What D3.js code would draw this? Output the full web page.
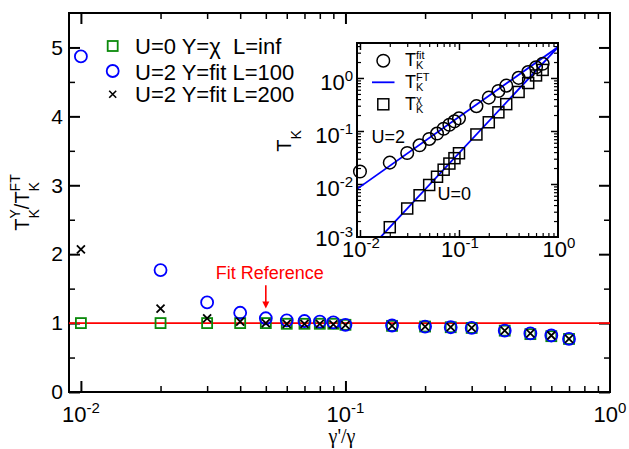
<!DOCTYPE html>
<html><head><meta charset="utf-8">
<script src="https://cdn.jsdelivr.net/npm/d3@7"></script>
<style>
html,body{margin:0;padding:0;background:#fff;}
svg{display:block;font-family:"Liberation Sans",Arial,Helvetica,sans-serif;}
</style></head><body>
<svg id="chart" width="629" height="449"></svg>
<script>
// ---------------- data ----------------
const gammaRatio = [0.01,0.02,0.03,0.04,0.05,0.06,0.07,0.08,0.09,0.1,0.15,0.2,0.25,0.3,0.4,0.5,0.6,0.7];
const ratioU0     = [1.0,1.0,1.0,1.0,1.0,0.99,0.99,0.99,0.99,0.975,0.96,0.95,0.94,0.93,0.89,0.84,0.81,0.77];
const ratioU2L100 = [4.87,1.77,1.30,1.15,1.07,1.04,1.03,1.02,1.01,0.975,0.965,0.95,0.94,0.93,0.89,0.85,0.82,0.77];
const ratioU2L200 = [2.07,1.21,1.07,1.02,1.0,0.99,0.99,0.99,0.98,0.97,0.96,0.95,0.94,0.93,0.89,0.85,0.82,0.77];
const insetFitX = [0.01,0.02,0.03,0.04,0.05,0.06,0.07,0.08,0.09,0.1,0.15,0.2,0.25,0.3,0.4,0.5,0.6,0.7];
const insetFitT = [0.0172,0.0253,0.0384,0.0537,0.0708,0.0894,0.110,0.131,0.152,0.173,0.294,0.426,0.568,0.716,1.006,1.293,1.59,1.85];
const insetChiX = [0.02,0.03,0.04,0.05,0.06,0.07,0.08,0.09,0.1,0.15,0.2,0.25,0.3,0.4,0.5,0.6,0.7];
const insetChiT = [0.00153,0.00345,0.00613,0.00958,0.0137,0.0186,0.0243,0.0307,0.0380,0.086,0.146,0.225,0.321,0.545,0.804,1.117,1.42];
const ftX   = [0.0093, 1];
const ftU2  = [0.008, 3.83];
const ftU0  = [0.00033, 3.83];
const mainYTicks = [0,1,2,3,4,5];
const mainXTickExp = [-2,-1,0];
const insetXTickExp = [-2,-1,0];
const insetYTickExp = [-3,-2,-1,0];
const legendLabels = ["U=0 Y=\u03c7  L=inf", "U=2 Y=fit L=100", "U=2 Y=fit L=200"];
const insetLegend = [
  {sup:"fit", kind:"circle"},
  {sup:"FT", kind:"line"},
  {sup:"\u03c7", kind:"square"}
];
const annotText = "Fit Reference";
const annotX = 0.05, annotFromY = 1.55, annotToY = 1.21;

// ---------------- helpers ----------------
const svg = d3.select("#chart");
const GREEN = "#0b8a0b", BLUE = "#0000ff", RED = "#ff0000";

function richLabel(parent, parts, opt){
  const g = parent.append("g").attr("fill", opt.fill || "#000");
  let cx = 0;
  parts.forEach(p=>{
    if(p.base){
      const t = g.append("text").attr("x",cx).attr("y",0).attr("font-size",opt.size).text(p.base);
      cx += t.node().getComputedTextLength();
    }
    let w = 0;
    if(p.sup){
      const t = g.append("text").attr("x",cx).attr("y",-opt.supShift).attr("font-size",opt.small).text(p.sup);
      w = Math.max(w, t.node().getComputedTextLength());
    }
    if(p.sub){
      const t = g.append("text").attr("x",cx).attr("y",opt.subShift).attr("font-size",opt.small).text(p.sub);
      w = Math.max(w, t.node().getComputedTextLength());
    }
    cx += w;
  });
  const dx = opt.anchor==="middle" ? -cx/2 : (opt.anchor==="end" ? -cx : 0);
  g.attr("transform", `translate(${opt.x},${opt.y})${opt.rotate ? ` rotate(${opt.rotate})` : ""} translate(${dx},0)`);
  return g;
}
function logMinor(domain){
  const out = [];
  for(let e=-4;e<=1;e++) for(let m=2;m<=9;m++){
    const v = m*Math.pow(10,e);
    if(v>domain[0]*1.001 && v<domain[1]*0.999) out.push(v);
  }
  return out;
}
function ticks(parent, axisFn, scale, values, size, transform, sw){
  parent.append("g").attr("transform",transform)
    .call(axisFn(scale).tickValues(values).tickSize(size).tickFormat(""))
    .call(s=>s.select(".domain").remove())
    .call(s=>s.selectAll("line").attr("stroke","#000").attr("stroke-width",sw));
}

// ---------------- main plot ----------------
const M = {l:69, r:610, t:13, b:392};
const x = d3.scaleLog().domain([Math.pow(10,-2.045),1]).range([M.l,M.r]);
const y = d3.scaleLinear().domain([0,5.5]).range([M.b,M.t]);

const main = svg.append("g");
const xMajor = mainXTickExp.map(e=>Math.pow(10,e)).filter(v=>v<1);
const xMinor = logMinor(x.domain());
const yMinor = d3.range(0.5,5.5,1);

ticks(main, d3.axisBottom, x, xMajor, -11, `translate(0,${M.b})`, 2);
ticks(main, d3.axisBottom, x, xMinor, -6, `translate(0,${M.b})`, 1.5);
ticks(main, d3.axisTop, x, xMajor, -11, `translate(0,${M.t})`, 2);
ticks(main, d3.axisTop, x, xMinor, -6, `translate(0,${M.t})`, 1.5);
ticks(main, d3.axisLeft, y, mainYTicks, -11, `translate(${M.l},0)`, 2);
ticks(main, d3.axisLeft, y, yMinor, -6, `translate(${M.l},0)`, 1.5);
ticks(main, d3.axisRight, y, mainYTicks, -11, `translate(${M.r},0)`, 2);
ticks(main, d3.axisRight, y, yMinor, -6, `translate(${M.r},0)`, 1.5);

// y tick labels via d3 axis
main.append("g").attr("transform",`translate(${M.l},0)`)
  .call(d3.axisLeft(y).tickValues(mainYTicks).tickSize(0).tickPadding(6).tickFormat(d3.format("d")))
  .call(s=>s.select(".domain").remove())
  .call(s=>s.selectAll("text").attr("font-size",21).attr("font-family","Liberation Sans, Arial, sans-serif").attr("fill","#000"));

// x tick labels
mainXTickExp.forEach(e=>{
  richLabel(main, [{base:"10", sup:String(e)}], {size:22, small:15, supShift:9, subShift:0, anchor:"middle", x:x(Math.pow(10,e)), y:422});
});

main.append("rect").attr("x",M.l).attr("y",M.t).attr("width",M.r-M.l).attr("height",M.b-M.t)
  .attr("fill","none").attr("stroke","#000").attr("stroke-width",2);

// axis titles
main.append("text").attr("x",342).attr("y",443).attr("text-anchor","middle")
  .attr("font-family","Liberation Serif, Times New Roman, serif").attr("font-size",20).text("\u03b3'/\u03b3");
richLabel(main, [{base:"T",sub:"K",sup:"Y"},{base:"/"},{base:"T",sub:"K",sup:"FT"}],
  {size:20, small:14, supShift:9, subShift:10, anchor:"middle", x:29, y:202.5, rotate:-90});

// reference line
main.append("line").attr("x1",M.l).attr("x2",M.r).attr("y1",y(1)).attr("y2",y(1))
  .attr("stroke",RED).attr("stroke-width",1.6);

// series
const mg = main.append("g");
mg.selectAll(".sq").data(gammaRatio).join("rect")
  .attr("x",(d,i)=>x(d)-5).attr("y",(d,i)=>y(ratioU0[i])-5).attr("width",10).attr("height",10)
  .attr("fill","none").attr("stroke",GREEN).attr("stroke-width",1.8);
mg.selectAll(".ci").data(gammaRatio).join("circle")
  .attr("cx",d=>x(d)).attr("cy",(d,i)=>y(ratioU2L100[i])).attr("r",6)
  .attr("fill","none").attr("stroke",BLUE).attr("stroke-width",1.8);
const xm = (g, cx, cy, s, col, sw)=>{
  g.append("path").attr("d",`M${cx-s},${cy-s}L${cx+s},${cy+s}M${cx-s},${cy+s}L${cx+s},${cy-s}`)
   .attr("stroke",col).attr("stroke-width",sw).attr("fill","none");
};
gammaRatio.forEach((d,i)=>xm(mg, x(d), y(ratioU2L200[i]), 4, "#000", 1.8));

// annotation
main.append("text").attr("x",x(annotX)+4).attr("y",279).attr("text-anchor","middle")
  .attr("font-size",18).attr("fill",RED).text(annotText);
main.append("line").attr("x1",x(annotX)).attr("x2",x(annotX)).attr("y1",y(annotFromY)).attr("y2",y(annotToY)-6)
  .attr("stroke",RED).attr("stroke-width",1.6);
main.append("path").attr("d",`M${x(annotX)-3.5},${y(annotToY)-7}L${x(annotX)+3.5},${y(annotToY)-7}L${x(annotX)},${y(annotToY)}Z`)
  .attr("fill",RED);

// legend
const legY = [46, 71, 94.3];
const legBase = [53.5, 79.5, 102];
const lg = main.append("g");
lg.append("rect").attr("x",112.7-5).attr("y",legY[0]-5).attr("width",10).attr("height",10)
  .attr("fill","none").attr("stroke",GREEN).attr("stroke-width",1.8);
lg.append("circle").attr("cx",112.7).attr("cy",legY[1]).attr("r",6)
  .attr("fill","none").attr("stroke",BLUE).attr("stroke-width",1.8);
xm(lg, 112.7, legY[2], 3.5, "#000", 1.6);
legendLabels.forEach((t,i)=>{
  lg.append("text").attr("x",135).attr("y",legBase[i]).attr("font-size",22)
    .attr("xml:space","preserve").style("white-space","pre").text(t);
});

// ---------------- inset ----------------
const I = {l:357, r:558, t:43, b:237};
const xi = d3.scaleLog().domain([Math.pow(10,-2.03),1]).range([I.l,I.r]);
const yi = d3.scaleLog().domain([1e-3, Math.pow(10,0.66)]).range([I.b,I.t]);
const inset = svg.append("g");
inset.append("rect").attr("x",I.l).attr("y",I.t).attr("width",I.r-I.l).attr("height",I.b-I.t)
  .attr("fill","#fff");
inset.append("clipPath").attr("id","iclip").append("rect")
  .attr("x",I.l).attr("y",I.t).attr("width",I.r-I.l).attr("height",I.b-I.t);

const xiMajor = insetXTickExp.map(e=>Math.pow(10,e)).filter(v=>v>xi.domain()[0] && v<1);
const xiMinor = logMinor(xi.domain());
const yiMajor = insetYTickExp.map(e=>Math.pow(10,e)).filter(v=>v>1e-3);
const yiMinor = logMinor(yi.domain());
ticks(inset, d3.axisBottom, xi, xiMajor, -7, `translate(0,${I.b})`, 1.5);
ticks(inset, d3.axisBottom, xi, xiMinor, -4, `translate(0,${I.b})`, 1.2);
ticks(inset, d3.axisTop, xi, xiMajor, -7, `translate(0,${I.t})`, 1.5);
ticks(inset, d3.axisTop, xi, xiMinor, -4, `translate(0,${I.t})`, 1.2);
ticks(inset, d3.axisLeft, yi, yiMajor, -7, `translate(${I.l},0)`, 1.5);
ticks(inset, d3.axisLeft, yi, yiMinor, -4, `translate(${I.l},0)`, 1.2);
ticks(inset, d3.axisRight, yi, yiMajor, -7, `translate(${I.r},0)`, 1.5);
ticks(inset, d3.axisRight, yi, yiMinor, -4, `translate(${I.r},0)`, 1.2);

insetXTickExp.forEach(e=>{
  richLabel(inset, [{base:"10", sup:String(e)}], {size:22, small:15, supShift:9, subShift:0, anchor:"middle", x:xi(Math.pow(10,e))+1, y:257});
});
insetYTickExp.forEach(e=>{
  richLabel(inset, [{base:"10", sup:String(e)}], {size:22, small:15, supShift:9, subShift:0, anchor:"end", x:353, y:Math.min(yi(Math.pow(10,e)),234)+12});
});
richLabel(inset, [{base:"T", sub:"K"}], {size:20, small:14, supShift:7, subShift:10, anchor:"middle", x:291, y:141, rotate:-90});

// lines
const lineGen = d3.line().x(d=>xi(d[0])).y(d=>yi(d[1]));
const ic = inset.append("g").attr("clip-path","url(#iclip)");
ic.append("path").datum(ftX.map((v,i)=>[v,ftU2[i]])).attr("d",lineGen)
  .attr("stroke",BLUE).attr("stroke-width",1.8).attr("fill","none");
ic.append("path").datum(ftX.map((v,i)=>[v,ftU0[i]])).attr("d",lineGen)
  .attr("stroke",BLUE).attr("stroke-width",1.8).attr("fill","none");
// markers
inset.selectAll(".ic").data(insetFitX).join("circle")
  .attr("cx",d=>xi(d)).attr("cy",(d,i)=>yi(insetFitT[i])).attr("r",6.3)
  .attr("fill","none").attr("stroke","#000").attr("stroke-width",1.5);
inset.selectAll(".is").data(insetChiX).join("rect")
  .attr("x",d=>xi(d)-5.5).attr("y",(d,i)=>yi(insetChiT[i])-5.5).attr("width",11).attr("height",11)
  .attr("fill","none").attr("stroke","#000").attr("stroke-width",1.5);

inset.append("rect").attr("x",I.l).attr("y",I.t).attr("width",I.r-I.l).attr("height",I.b-I.t)
  .attr("fill","none").attr("stroke","#000").attr("stroke-width",2);

// inset legend
const ilY = [60.7, 82.3, 104.3];
const ilBase = [65.5, 87.5, 109.5];
insetLegend.forEach((L,i)=>{
  if(L.kind==="circle") inset.append("circle").attr("cx",383.3).attr("cy",ilY[i]).attr("r",6.3)
    .attr("fill","none").attr("stroke","#000").attr("stroke-width",1.5);
  if(L.kind==="line") inset.append("line").attr("x1",372).attr("x2",394.5).attr("y1",ilY[i]).attr("y2",ilY[i])
    .attr("stroke",BLUE).attr("stroke-width",1.8);
  if(L.kind==="square") inset.append("rect").attr("x",383.3-5.5).attr("y",ilY[i]-5.5).attr("width",11).attr("height",11)
    .attr("fill","none").attr("stroke","#000").attr("stroke-width",1.5);
  richLabel(inset, [{base:"T", sup:L.sup, sub:"K"}], {size:18, small:11, supShift:7, subShift:3.5, anchor:"start", x:405, y:ilBase[i]});
});
inset.append("text").attr("x",371.5).attr("y",143).attr("font-size",18).text("U=2");
inset.append("text").attr("x",437.5).attr("y",200).attr("font-size",18).text("U=0");
</script>
</body></html>
